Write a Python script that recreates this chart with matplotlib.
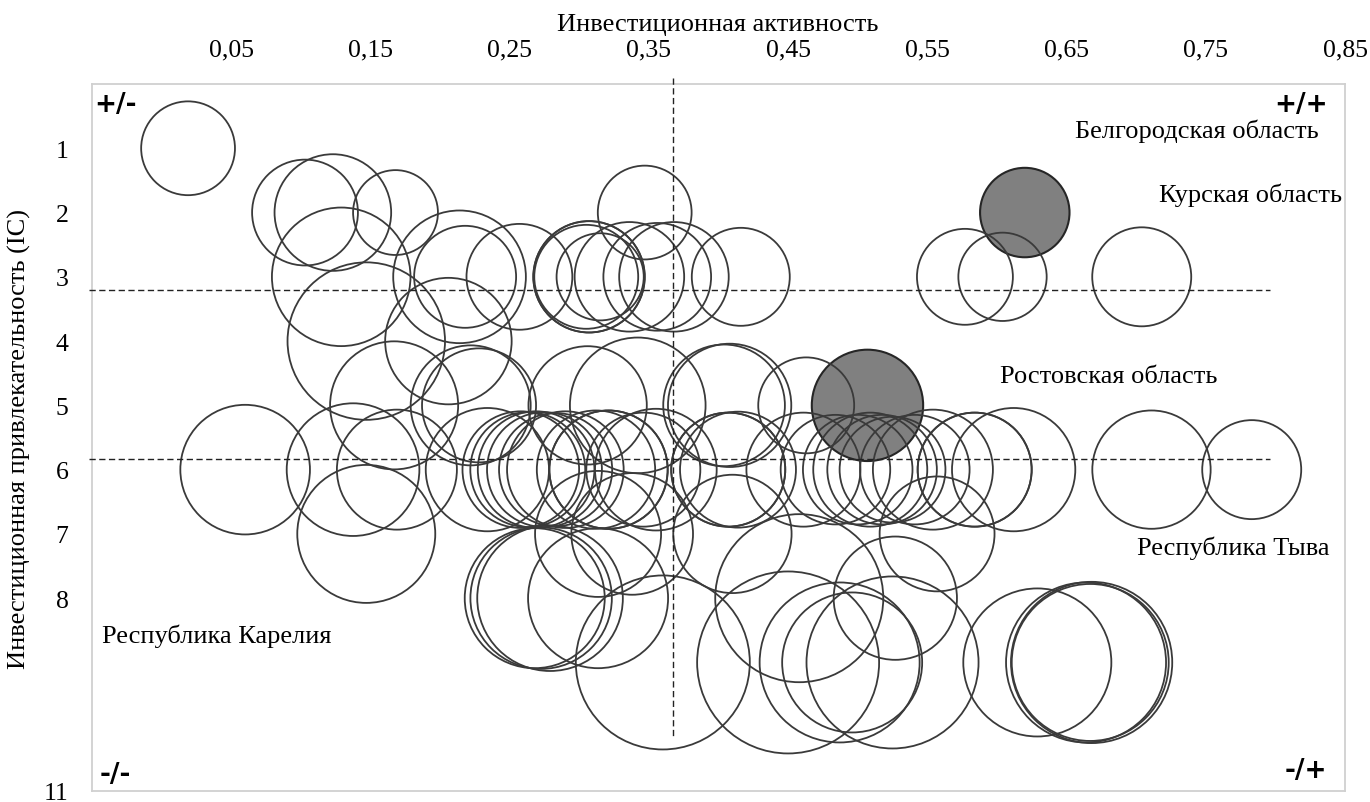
import matplotlib
matplotlib.use('Agg')
import matplotlib.pyplot as plt
import numpy as np

# investment activity (x), investment attractiveness rank (y), bubble value
inv_activity = [
    0.019,
    0.103, 0.123, 0.168, 0.347,
    0.129, 0.214, 0.218, 0.257, 0.305, 0.307, 0.307, 0.315, 0.336, 0.356, 0.368, 0.416, 0.577, 0.604, 0.704,
    0.147, 0.206,
    0.167, 0.222, 0.228, 0.306, 0.342, 0.404, 0.408, 0.463,
    0.060, 0.1375, 0.169, 0.234, 0.258, 0.263, 0.269, 0.275, 0.283, 0.290,
    0.312, 0.321, 0.321, 0.346, 0.355, 0.407, 0.407, 0.414,
    0.461, 0.484, 0.500, 0.509, 0.5175, 0.525, 0.541, 0.554, 0.584, 0.584, 0.612, 0.711, 0.783,
    0.147, 0.3135, 0.338, 0.410, 0.557,
    0.268, 0.2726, 0.279, 0.3135, 0.458, 0.527,
    0.360, 0.450, 0.487, 0.496, 0.525, 0.629, 0.664, 0.667, 0.668,
]
inv_attract = [
    1,
    2, 2, 2, 2,
    3, 3, 3, 3, 3, 3, 3, 3, 3, 3, 3, 3, 3, 3, 3,
    4, 4,
    5, 5, 5, 5, 5, 5, 5, 5,
    6, 6, 6, 6, 6, 6, 6, 6, 6, 6,
    6, 6, 6, 6, 6, 6, 6, 6,
    6, 6, 6, 6, 6, 6, 6, 6, 6, 6, 6, 6, 6,
    7, 7, 7, 7, 7,
    8, 8, 8, 8, 8, 8,
    9, 9, 9, 9, 9, 9, 9, 9, 9,
]
bubble_value = [
    22,
    28, 34, 18, 22,
    48, 44, 26, 28, 27, 31, 31, 19, 30, 29, 30, 24, 23, 19.5, 24.5,
    62, 40,
    41, 36, 32.5, 35, 46, 37, 38, 23,
    42, 44, 36, 38, 34, 33, 34, 33, 32, 34,
    35, 35, 35, 32.5, 37, 32.5, 32.5, 33.6,
    32.5, 30, 30, 32.5, 30, 28, 30, 36, 32.5, 32.5, 38, 35, 24.5,
    47.6, 39.7, 37, 35, 33,
    49, 50, 53, 49, 70.6, 38,
    75.7, 82.8, 64, 49, 74, 54.8, 64, 61.6, 65,
]

# highlighted regions (Курская, Ростовская)
hl_activity = [0.620, 0.507]
hl_attract = [2, 5]
hl_value = [20, 31]

x_ticks = [0.05, 0.15, 0.25, 0.35, 0.45, 0.55, 0.65, 0.75, 0.85]
x_tick_labels = ['0,05', '0,15', '0,25', '0,35', '0,45', '0,55', '0,65', '0,75', '0,85']
y_ticks = [1, 2, 3, 4, 5, 6, 7, 8, 11]
y_tick_labels = ['1', '2', '3', '4', '5', '6', '7', '8', '11']

# thresholds (dashed lines)
x_mid = 0.367
y_mid_top = 3.2
y_mid_bottom = 5.835

labels = ['Белгородская область', 'Курская область', 'Ростовская область',
          'Республика Тыва', 'Республика Карелия']
label_x = [0.656, 0.7165, 0.6023, 0.7005, -0.043]
label_y = [0.83, 1.825, 4.63, 7.31, 8.68]

serif = 'Liberation Serif'

fig = plt.figure(figsize=(13.7, 8.03), dpi=100)
ax = fig.add_axes([92 / 1370, 1 - 792 / 803, (1345 - 92) / 1370, (792 - 85) / 803])

ax.set_xlim(-0.05, 0.85)
ax.set_ylim(11, 0)

k = 207.36  # bubble area scale
ax.scatter(hl_activity, hl_attract, s=np.array(hl_value) * k,
           facecolors='#808080', edgecolors='#262626', linewidths=1.5, zorder=2)
ax.scatter(inv_activity, inv_attract, s=np.array(bubble_value) * k,
           facecolors='none', edgecolors='#3a3a3a', linewidths=1.3, zorder=3)

dash = (0, (4.5, 2.5))
ax.plot([x_mid, x_mid], [-0.1, 10.14], color='#222222', lw=1.0, ls=dash, clip_on=False, zorder=4)
ax.plot([-0.052, 0.796], [y_mid_top, y_mid_top], color='#222222', lw=1.0, ls=dash, clip_on=False, zorder=4)
ax.plot([-0.052, 0.796], [y_mid_bottom, y_mid_bottom], color='#222222', lw=1.0, ls=dash, clip_on=False, zorder=4)

ax.xaxis.tick_top()
ax.set_xticks(x_ticks)
ax.set_xticklabels(x_tick_labels, fontfamily=serif, fontsize=18.5)
ax.set_yticks(y_ticks)
ax.set_yticklabels(y_tick_labels, fontfamily=serif, fontsize=18.5)
ax.tick_params(axis='x', length=0, pad=17)
ax.tick_params(axis='y', length=0, pad=17)

for sp in ax.spines.values():
    sp.set_color('#d0d0d0')
    sp.set_linewidth(1.3)

for t, lx, ly in zip(labels, label_x, label_y):
    ax.text(lx, ly, t, fontfamily=serif, fontsize=19, va='baseline', ha='left', zorder=5)

quad = dict(fontfamily='DejaVu Sans', fontweight='bold', fontsize=19, transform=ax.transAxes, zorder=5)
ax.text(0.002, 0.99, '+/-', ha='left', va='top', **quad)
ax.text(0.986, 0.99, '+/+', ha='right', va='top', **quad)
ax.text(0.006, 0.005, '-/-', ha='left', va='bottom', **quad)
ax.text(0.986, 0.012, '-/+', ha='right', va='bottom', **quad)

fig.text(718 / 1370, 1 - 25 / 803, 'Инвестиционная активность', fontfamily=serif,
         fontsize=19, ha='center', va='center')
fig.text(19 / 1370, 1 - 439 / 803, 'Инвестиционная привлекательность (IC)', fontfamily=serif,
         fontsize=19, ha='center', va='center', rotation=90)

fig.savefig('out.png', dpi=100)
